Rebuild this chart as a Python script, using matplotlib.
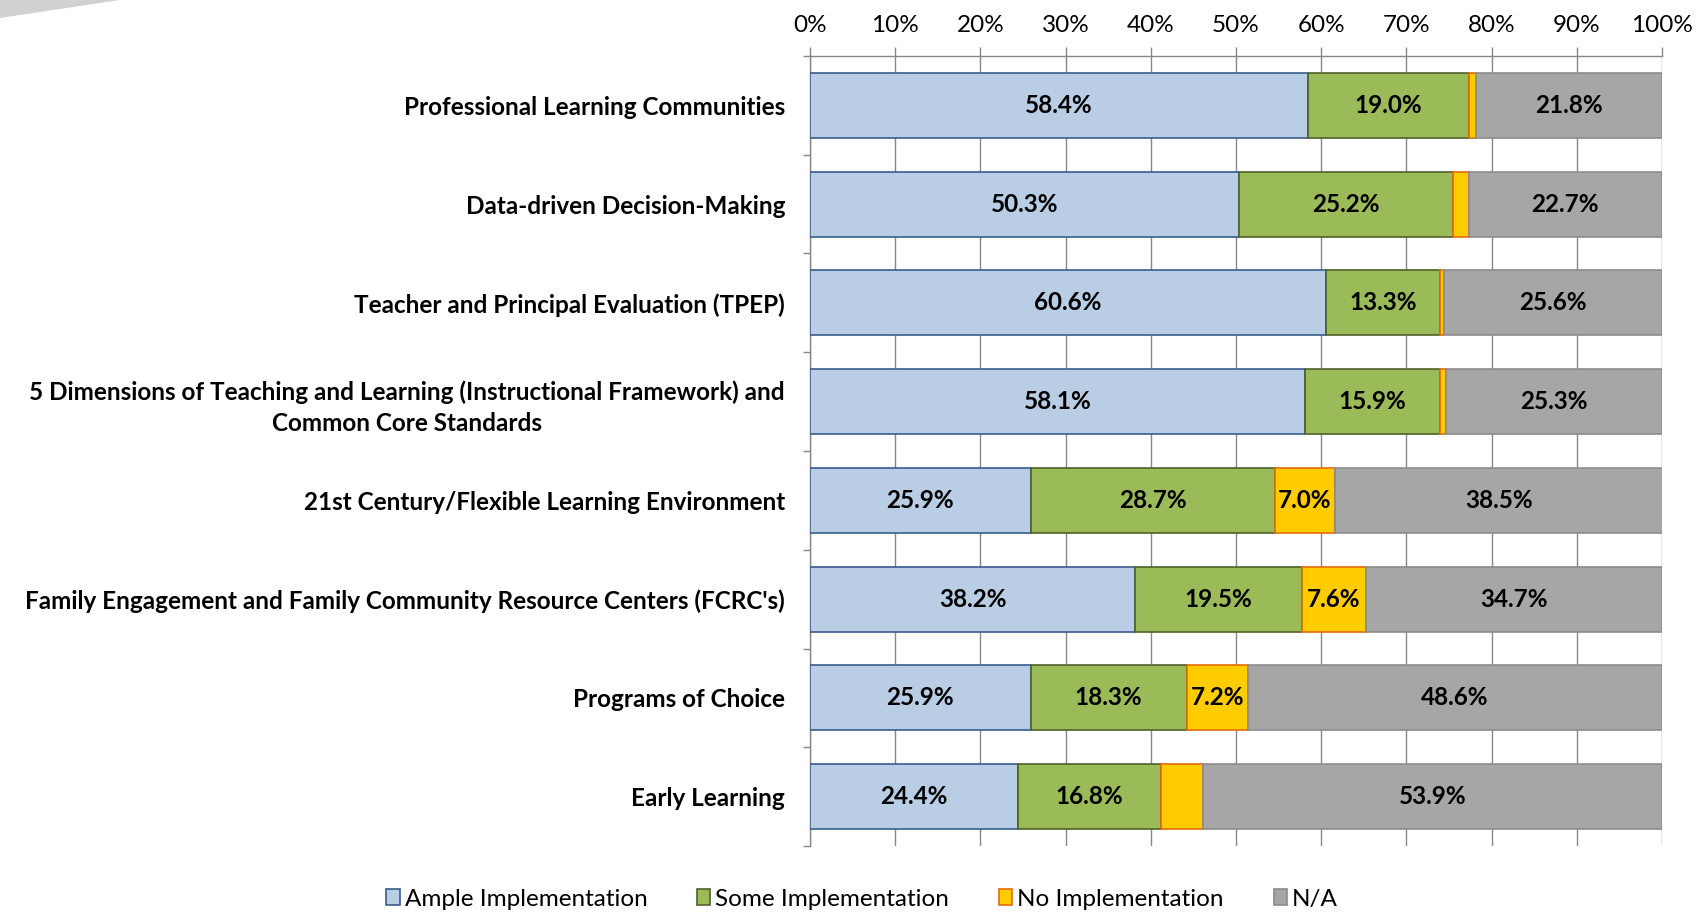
import matplotlib
matplotlib.use("Agg")
import matplotlib.pyplot as plt
from matplotlib.patches import Rectangle, Polygon
import numpy as np

plt.rcParams['font.family'] = ['Lato', 'DejaVu Sans']

categories = [
    "Professional Learning Communities",
    "Data-driven Decision-Making",
    "Teacher and Principal Evaluation (TPEP)",
    "5 Dimensions of Teaching and Learning (Instructional Framework) and\nCommon Core Standards",
    "21st Century/Flexible Learning Environment",
    "Family Engagement and Family Community Resource Centers (FCRC's)",
    "Programs of Choice",
    "Early Learning",
]
ample = [58.4, 50.3, 60.6, 58.1, 25.9, 38.2, 25.9, 24.4]
some = [19.0, 25.2, 13.3, 15.9, 28.7, 19.5, 18.3, 16.8]
none_ = [0.8, 1.8, 0.5, 0.7, 7.0, 7.6, 7.2, 4.9]
na = [21.8, 22.7, 25.6, 25.3, 38.5, 34.7, 48.6, 53.9]
series_names = ["Ample Implementation", "Some Implementation", "No Implementation", "N/A"]
x_ticks = [0, 10, 20, 30, 40, 50, 60, 70, 80, 90, 100]
x_tick_labels = [f"{t}%" for t in x_ticks]

faces = ["#B9CDE5", "#9BBB59", "#FFCC00", "#A6A6A6"]
edges = ["#385D8A", "#4F6228", "#E46C0A", "#8C8C8C"]

FS = 17.5
W, H = 1707, 913
fig = plt.figure(figsize=(W / 100, H / 100), dpi=100)

# decorative swoosh top-left
fig.patches.append(Polygon([(0, 1), (120 / W, 1), (0, 1 - 18 / H)], closed=True,
                           transform=fig.transFigure, facecolor="#D0D1D3",
                           edgecolor="none", zorder=0))

ax = fig.add_axes([810 / W, 1 - 846 / H, (1662 - 810) / W, (846 - 56) / H])

y = np.arange(len(categories))
left = np.zeros(len(categories))
data = [ample, some, none_, na]
bh = 0.66
for vals, fc, ec, name in zip(data, faces, edges, series_names):
    vals = np.array(vals)
    ax.barh(y, vals, left=left, height=bh, color=fc, edgecolor=ec,
            linewidth=1.2, label=name, zorder=3)
    for yi, l, v in zip(y, left, vals):
        if v >= 5:
            ax.text(l + v / 2, yi, f"{v:.1f}%", ha="center", va="center",
                    fontsize=FS, fontweight="bold", color="black", zorder=4)
    left = left + vals

ax.set_xlim(0, 100)
ax.set_ylim(len(categories) - 0.5, -0.5)

ax.xaxis.tick_top()
ax.set_xticks(x_ticks)
ax.set_xticklabels(x_tick_labels, fontsize=FS)
ax.tick_params(axis="x", which="major", direction="out", length=6.5, width=1,
               color="#878787", pad=8)
ax.grid(axis="x", color="#878787", linewidth=1, zorder=0)
ax.set_axisbelow(True)

ax.set_yticks(y)
ax.set_yticklabels(categories, fontsize=FS, fontweight="bold",
                   multialignment="center", linespacing=1.4)
ax.tick_params(axis="y", which="major", length=0, pad=18)
ax.set_yticks(np.arange(-0.5, len(categories) + 0.5, 1), minor=True)
ax.tick_params(axis="y", which="minor", direction="out", length=5, width=1,
               color="#878787")

for s in ["bottom", "right"]:
    ax.spines[s].set_visible(False)
for s in ["top", "left"]:
    ax.spines[s].set_color("#878787")
    ax.spines[s].set_linewidth(1)

handles = [Rectangle((0, 0), 1, 1, facecolor=fc, edgecolor=ec, linewidth=1.2)
           for fc, ec in zip(faces, edges)]
fig.legend(handles, series_names, loc="center", bbox_to_anchor=(862 / W, 1 - 899 / H),
           ncol=4, frameon=False, fontsize=FS, handlelength=0.55, handleheight=0.6,
           handletextpad=0.2, columnspacing=2.05)

fig.savefig("out.png", dpi=100)
